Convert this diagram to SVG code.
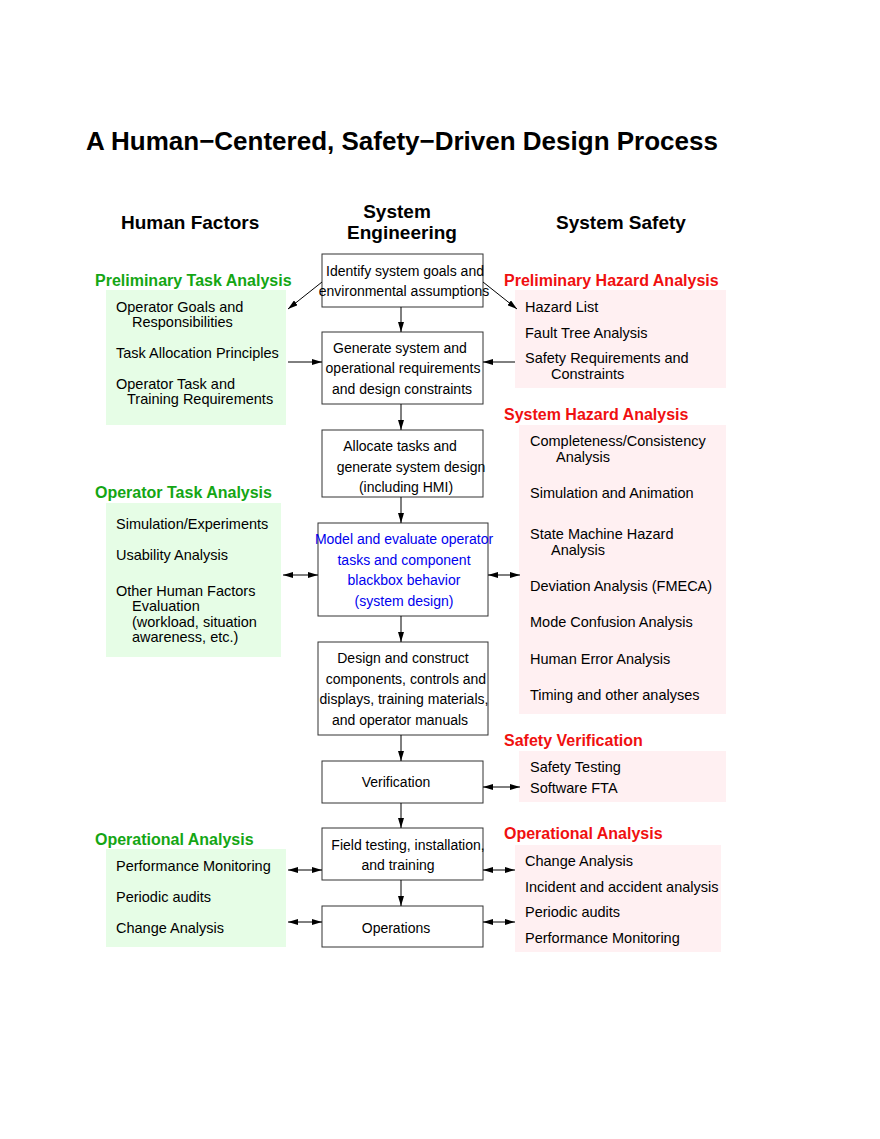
<svg xmlns="http://www.w3.org/2000/svg" width="880" height="1139" viewBox="0 0 880 1139">
<style>
text{font-family:"Liberation Sans",Arial,sans-serif;fill:#000}
.t{font-size:26px;font-weight:bold}
.h{font-size:19px;font-weight:bold}
.g{font-size:16px;font-weight:bold;fill:#14a614}
.r{font-size:16px;font-weight:bold;fill:#f01010}
.i{font-size:14.5px}
.b{font-size:14px;text-anchor:middle}
.bl{fill:#0000ee}
.box{fill:#fff;stroke:#333;stroke-width:1}
.gb{fill:#e6fde6}
.pb{fill:#fff0f2}
.c line{stroke:#000;stroke-width:1}
</style>
<defs>
<marker id="a" viewBox="0 0 10 6" refX="10" refY="3" markerWidth="10" markerHeight="6" markerUnits="userSpaceOnUse" orient="auto-start-reverse"><path d="M0,0L10,3L0,6z" fill="#000"/></marker>
</defs>
<rect width="880" height="1139" fill="#fff"/>
<text class="t" x="86" y="150">A Human−Centered, Safety−Driven Design Process</text>
<text class="h" x="121" y="229">Human Factors</text>
<text class="h" x="397" y="218" text-anchor="middle">System</text>
<text class="h" x="402" y="239" text-anchor="middle">Engineering</text>
<text class="h" x="556" y="229">System Safety</text>

<g id="hf-prelim"><text class="g" x="95" y="286">Preliminary Task Analysis</text><rect class="gb" x="106" y="290" width="180" height="135"/>
<text class="i" x="116" y="312">Operator Goals and</text><text class="i" x="132" y="327">Responsibilities</text>
<text class="i" x="116" y="358">Task Allocation Principles</text>
<text class="i" x="116" y="389">Operator Task and</text><text class="i" x="127" y="404">Training Requirements</text></g>
<g id="hf-ota"><text class="g" x="95" y="498">Operator Task Analysis</text><rect class="gb" x="106" y="503" width="175" height="154"/>
<text class="i" x="116" y="529">Simulation/Experiments</text>
<text class="i" x="116" y="560">Usability Analysis</text>
<text class="i" x="116" y="596">Other Human Factors</text><text class="i" x="132" y="611">Evaluation</text>
<text class="i" x="132" y="627">(workload, situation</text><text class="i" x="132" y="642">awareness, etc.)</text></g>
<g id="hf-op"><text class="g" x="95" y="845">Operational Analysis</text><rect class="gb" x="106" y="849" width="180" height="98"/>
<text class="i" x="116" y="871">Performance Monitoring</text>
<text class="i" x="116" y="902">Periodic audits</text>
<text class="i" x="116" y="933">Change Analysis</text></g>

<g id="ss-pha"><text class="r" x="504" y="286">Preliminary Hazard Analysis</text><rect class="pb" x="515" y="290" width="211" height="98"/>
<text class="i" x="525" y="312">Hazard List</text>
<text class="i" x="525" y="338">Fault Tree Analysis</text>
<text class="i" x="525" y="363">Safety Requirements and</text><text class="i" x="551" y="379">Constraints</text></g>
<g id="ss-sha"><text class="r" x="504" y="420">System Hazard Analysis</text><rect class="pb" x="519" y="425" width="207" height="289"/>
<text class="i" x="530" y="446">Completeness/Consistency</text><text class="i" x="556" y="462">Analysis</text>
<text class="i" x="530" y="498">Simulation and Animation</text>
<text class="i" x="530" y="539">State Machine Hazard</text><text class="i" x="551" y="555">Analysis</text>
<text class="i" x="530" y="591">Deviation Analysis (FMECA)</text>
<text class="i" x="530" y="627">Mode Confusion Analysis</text>
<text class="i" x="530" y="664">Human Error Analysis</text>
<text class="i" x="530" y="700">Timing and other analyses</text></g>
<g id="ss-sv"><text class="r" x="504" y="746">Safety Verification</text><rect class="pb" x="519" y="751" width="207" height="51"/>
<text class="i" x="530" y="772">Safety Testing</text><text class="i" x="530" y="793">Software FTA</text></g>
<g id="ss-op"><text class="r" x="504" y="839">Operational Analysis</text><rect class="pb" x="515" y="845" width="206" height="107"/>
<text class="i" x="525" y="866">Change Analysis</text>
<text class="i" x="525" y="892">Incident and accident analysis</text>
<text class="i" x="525" y="917">Periodic audits</text>
<text class="i" x="525" y="943">Performance Monitoring</text></g>

<g id="n1"><rect class="box" x="322" y="254" width="161" height="53"/><text class="b" x="405" y="276">Identify system goals and</text><text class="b" x="404" y="296">environmental assumptions</text></g>
<g id="n2"><rect class="box" x="322" y="332" width="161" height="72"/><text class="b" x="400" y="353">Generate system and</text><text class="b" x="403" y="373">operational requirements</text><text class="b" x="402" y="394">and design constraints</text></g>
<g id="n3"><rect class="box" x="322" y="430" width="161" height="67"/><text class="b" x="400" y="451">Allocate tasks and</text><text class="b" x="411" y="472">generate system design</text><text class="b" x="406" y="492">(including HMI)</text></g>
<g id="n4"><rect class="box" x="318" y="523" width="170" height="93"/><text class="b bl" x="404" y="544">Model and evaluate operator</text><text class="b bl" x="404" y="565">tasks and component</text><text class="b bl" x="404" y="585">blackbox behavior</text><text class="b bl" x="404" y="606">(system design)</text></g>
<g id="n5"><rect class="box" x="318" y="642" width="170" height="93"/><text class="b" x="403" y="663">Design and construct</text><text class="b" x="406" y="684">components, controls and</text><text class="b" x="404" y="704">displays, training materials,</text><text class="b" x="400" y="725">and operator manuals</text></g>
<g id="n6"><rect class="box" x="322" y="761" width="161" height="42"/><text class="b" x="396" y="787">Verification</text></g>
<g id="n7"><rect class="box" x="322" y="828" width="161" height="52"/><text class="b" x="408" y="850">Field testing, installation,</text><text class="b" x="398" y="870">and training</text></g>
<g id="n8"><rect class="box" x="322" y="906" width="161" height="41"/><text class="b" x="396" y="933">Operations</text></g>

<g class="c" id="connectors">
<line x1="401" y1="307" x2="401" y2="332" marker-end="url(#a)"/>
<line x1="401" y1="404" x2="401" y2="430" marker-end="url(#a)"/>
<line x1="401" y1="497" x2="401" y2="523" marker-end="url(#a)"/>
<line x1="401" y1="616" x2="401" y2="642" marker-end="url(#a)"/>
<line x1="401" y1="735" x2="401" y2="761" marker-end="url(#a)"/>
<line x1="401" y1="803" x2="401" y2="828" marker-end="url(#a)"/>
<line x1="401" y1="880" x2="401" y2="906" marker-end="url(#a)"/>
<line x1="322" y1="282" x2="288" y2="309" marker-end="url(#a)"/>
<line x1="483" y1="282" x2="517" y2="309" marker-end="url(#a)"/>
<line x1="288" y1="362" x2="322" y2="362" marker-end="url(#a)"/>
<line x1="515" y1="362" x2="483" y2="362" marker-end="url(#a)"/>
<line x1="283" y1="575" x2="318" y2="575" marker-start="url(#a)" marker-end="url(#a)"/>
<line x1="488" y1="575" x2="520" y2="575" marker-start="url(#a)" marker-end="url(#a)"/>
<line x1="483" y1="787" x2="520" y2="787" marker-start="url(#a)" marker-end="url(#a)"/>
<line x1="288" y1="870" x2="322" y2="870" marker-start="url(#a)" marker-end="url(#a)"/>
<line x1="483" y1="870" x2="515" y2="870" marker-start="url(#a)" marker-end="url(#a)"/>
<line x1="288" y1="922" x2="322" y2="922" marker-start="url(#a)" marker-end="url(#a)"/>
<line x1="483" y1="922" x2="515" y2="922" marker-start="url(#a)" marker-end="url(#a)"/>
</g>
</svg>
